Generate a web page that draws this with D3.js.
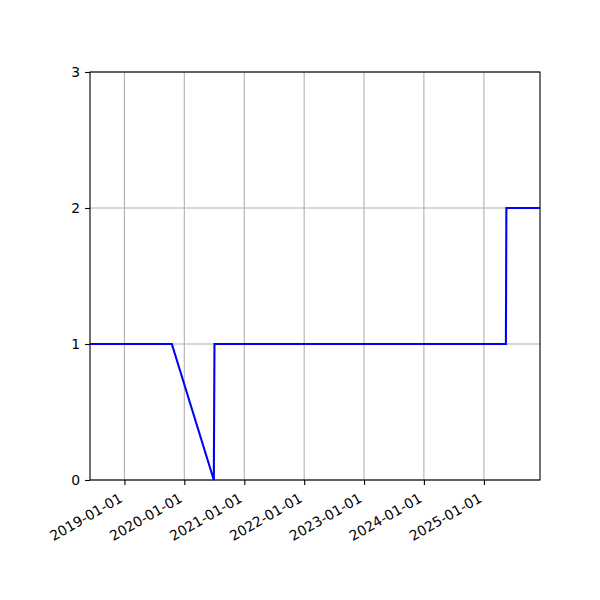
<!DOCTYPE html>
<html>
<head>
<meta charset="utf-8">
<script src="https://cdn.jsdelivr.net/npm/d3@7"></script>
<style>
  body { margin: 0; background: #fff; }
  text { font-family: "DejaVu Sans", sans-serif; }
</style>
</head>
<body>
<svg id="vis" width="600" height="600"></svg>
<script>
// data
var dates = ["2018-06-05", "2019-10-17", "2020-06-29", "2020-07-03", "2025-05-15", "2025-05-18", "2025-12-09"];
var values = [1, 1, 0, 1, 1, 2, 2];
var xTicks = ["2019-01-01", "2020-01-01", "2021-01-01", "2022-01-01", "2023-01-01", "2024-01-01", "2025-01-01"];
var yTicks = [0, 1, 2, 3];

var parse = d3.timeParse("%Y-%m-%d");
var fmt = d3.timeFormat("%Y-%m-%d");

var margin = {top: 72, right: 60, bottom: 120, left: 90},
    width = 600 - margin.left - margin.right,
    height = 600 - margin.top - margin.bottom;

var svg = d3.select("#vis");
svg.append("rect").attr("width", 600).attr("height", 600).attr("fill", "white");

var g = svg.append("g")
    .attr("transform", "translate(" + margin.left + "," + margin.top + ")");

var pts = dates.map(function(d, i){ return {date: parse(d), value: values[i]}; });

var x = d3.scaleTime()
    .domain(d3.extent(pts, function(d){ return d.date; }))
    .range([0, width]);
var y = d3.scaleLinear()
    .domain([0, 3])
    .range([height, 0]);

var tickDates = xTicks.map(parse);

// grid
g.selectAll(".vgrid")
    .data(tickDates)
    .enter().append("line")
    .attr("x1", function(d){ return x(d); })
    .attr("x2", function(d){ return x(d); })
    .attr("y1", 0).attr("y2", height)
    .attr("stroke", "#b0b0b0").attr("stroke-width", 1.1);
g.selectAll(".hgrid")
    .data(yTicks)
    .enter().append("line")
    .attr("x1", 0).attr("x2", width)
    .attr("y1", function(d){ return y(d); })
    .attr("y2", function(d){ return y(d); })
    .attr("stroke", "#b0b0b0").attr("stroke-width", 1.1);

// the line
var line = d3.line()
    .x(function(d){ return x(d.date); })
    .y(function(d){ return y(d.value); });
g.append("path")
    .datum(pts)
    .attr("d", line)
    .attr("fill", "none")
    .attr("stroke", "blue")
    .attr("stroke-width", 2.1);

// frame
g.append("rect")
    .attr("width", width).attr("height", height)
    .attr("fill", "none").attr("stroke", "black").attr("stroke-width", 1.1);

// x axis
var xAxis = g.append("g")
    .attr("transform", "translate(0," + height + ")")
    .call(d3.axisBottom(x).tickValues(tickDates).tickFormat(fmt).tickSize(4.9).tickPadding(4.9));
xAxis.select(".domain").remove();
xAxis.selectAll(".tick line").attr("stroke", "black").attr("stroke-width", 1.1);
xAxis.selectAll(".tick text")
    .attr("font-size", 13.9)
    .attr("fill", "black")
    .attr("text-anchor", "end")
    .attr("dy", null)
    .attr("y", 0)
    .attr("transform", "translate(-1.6,21) rotate(-30)");

// y axis
var yAxis = g.append("g")
    .call(d3.axisLeft(y).tickValues(yTicks).tickFormat(d3.format("d")).tickSize(4.9).tickPadding(4.9));
yAxis.select(".domain").remove();
yAxis.selectAll(".tick line").attr("stroke", "black").attr("stroke-width", 1.1);
yAxis.selectAll(".tick text").attr("font-size", 13.9).attr("fill", "black");
</script>
</body>
</html>
